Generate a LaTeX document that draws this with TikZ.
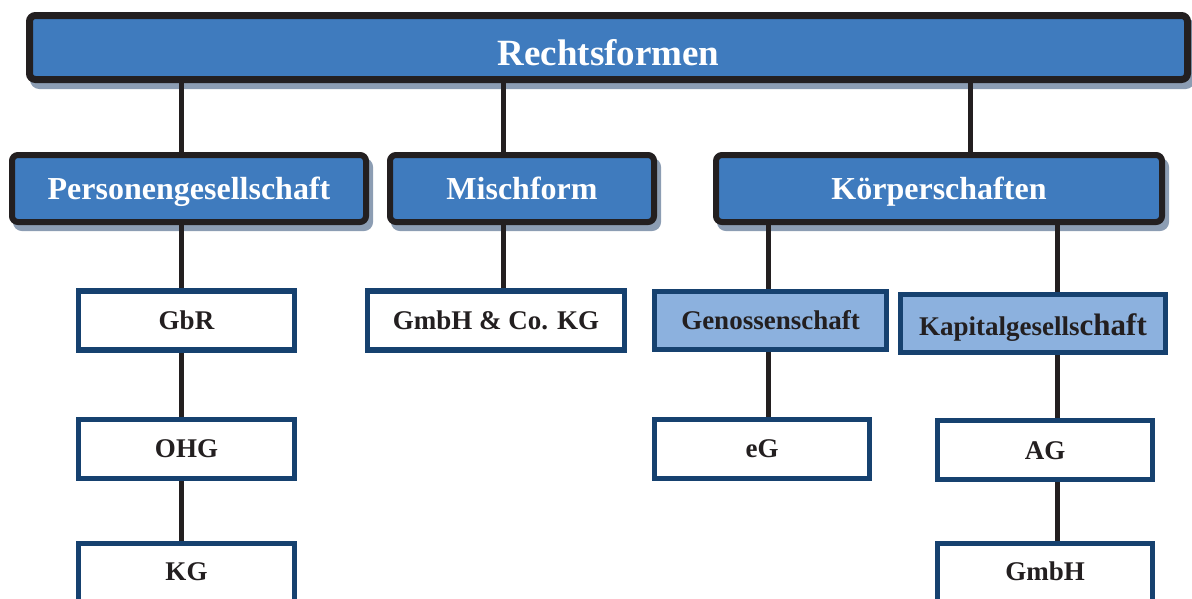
\documentclass[tikz,border=0pt]{standalone}
\usepackage{fontspec}
\setmainfont{Liberation Serif}
\usetikzlibrary{shadows}
\definecolor{midblue}{HTML}{3F7BBE}
\definecolor{lightblue}{HTML}{8CB1DE}
\definecolor{darkblue}{HTML}{16416F}
\definecolor{ink}{HTML}{231F20}
\definecolor{shadowc}{HTML}{8C9DB3}
\tikzset{
  fs/.style={font=\fontsize{#1}{#1}\selectfont\bfseries},
  headbox/.style={draw=ink, fill=midblue, text=white, rounded corners=6pt,
    inner sep=0pt, line width=#1, text depth=0pt,
    drop shadow={shadow xshift=4pt, shadow yshift=-6pt, fill=shadowc, draw=shadowc, line width=#1, opacity=1}},
  leafbox/.style={draw=darkblue, fill=white, text=ink, line width=5.5pt, inner sep=0pt, fs=27,
    text depth=0pt, text height=17pt},
  groupbox/.style={leafbox, fill=lightblue},
  conn/.style={draw=ink, line width=5pt}
}
\begin{document}
\begin{tikzpicture}[x=1pt,y=-1pt]
\useasboundingbox (0,0) rectangle (1192,598);
% level 0
\node[headbox=7pt, fs=37, text height=35pt, minimum width=1158pt, minimum height=64pt] (top) at (608.5,47.5) {Rechtsformen};
% level 1
\node[headbox=6pt, fs=32, text height=22pt, minimum width=354pt, minimum height=67pt] (pers) at (189,188.5) {Personengesellschaft};
\node[headbox=6pt, fs=32, text height=22pt, minimum width=264pt, minimum height=67pt] (misch) at (522,188.5) {Mischform};
\node[headbox=6pt, fs=32, text height=22pt, minimum width=446pt, minimum height=67pt] (koerp) at (939,188.5) {Körperschaften};
% level 2
\node[leafbox, minimum width=216pt, minimum height=59pt] (gbr) at (186.5,320.5) {GbR};
\node[leafbox, minimum width=257pt, minimum height=59pt] (gmbhco) at (496,320.5) {GmbH \& Co. KG};
\node[groupbox, minimum width=232pt, minimum height=58pt] (geno) at (770.5,320.5) {Genossenschaft};
\node[groupbox, text height=23pt, minimum width=265pt, minimum height=58pt] (kapital) at (1033,323.5)
  {Kapitalgesells{\fontsize{31}{31}\selectfont chaft}};
% level 3
\node[leafbox, minimum width=216pt, minimum height=59pt] (ohg) at (186.5,449) {OHG};
\node[leafbox, minimum width=215pt, minimum height=59pt] (eg) at (762,449) {eG};
\node[leafbox, text height=18pt, minimum width=215pt, minimum height=59pt] (ag) at (1045,450) {AG};
% level 4
\node[leafbox, text height=13pt, minimum width=216pt, minimum height=60pt] (kg) at (186.5,573.5) {KG};
\node[leafbox, text height=13pt, minimum width=215pt, minimum height=60pt] (gmbh) at (1045,573.5) {GmbH};
% connector columns
\coordinate (xa) at (181,0);
\coordinate (xb) at (503,0);
\coordinate (xc) at (970,0);
\coordinate (xd) at (768,0);
\coordinate (xe) at (1057,0);
\draw[conn] (top.south -| xa) -- (pers.north -| xa);
\draw[conn] (top.south -| xb) -- (misch.north -| xb);
\draw[conn] (top.south -| xc) -- (koerp.north -| xc);
\draw[conn] (pers.south -| xa) -- (gbr.north -| xa);
\draw[conn] (gbr.south -| xa) -- (ohg.north -| xa);
\draw[conn] (ohg.south -| xa) -- (kg.north -| xa);
\draw[conn] (misch.south -| xb) -- (gmbhco.north -| xb);
\draw[conn] (koerp.south -| xd) -- (geno.north -| xd);
\draw[conn] (geno.south -| xd) -- (eg.north -| xd);
\draw[conn] (koerp.south -| xe) -- (kapital.north -| xe);
\draw[conn] (kapital.south -| xe) -- (ag.north -| xe);
\draw[conn] (ag.south -| xe) -- (gmbh.north -| xe);
\end{tikzpicture}
\end{document}
